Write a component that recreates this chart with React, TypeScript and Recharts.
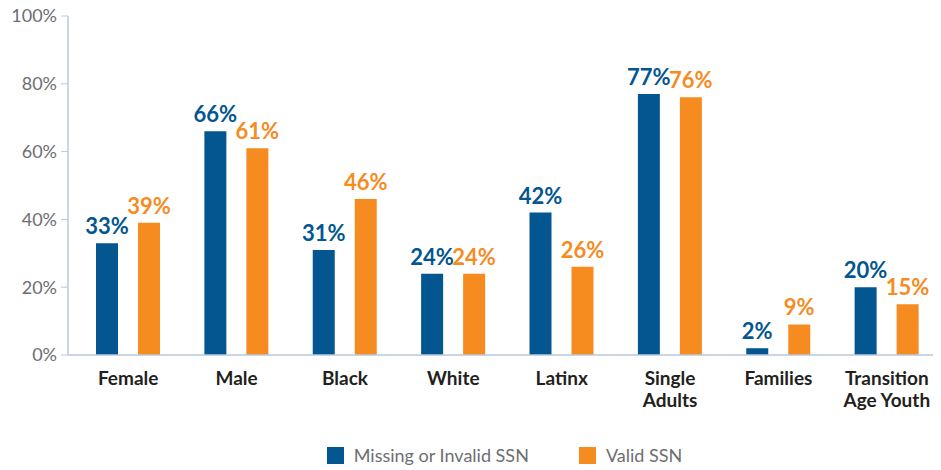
import React from 'react';
import { BarChart, Bar, XAxis, YAxis, Legend, LabelList } from 'recharts';

const categories = ['Female', 'Male', 'Black', 'White', 'Latinx', 'Single\nAdults', 'Families', 'Transition\nAge Youth'];
const missingSsn = [33, 66, 31, 24, 42, 77, 2, 20];
const validSsn = [39, 61, 46, 24, 26, 76, 9, 15];
const yTicks = [0, 20, 40, 60, 80, 100];

const BLUE = '#03568f';
const ORANGE = '#f68b1f';
const FONT = 'Lato, "Open Sans", sans-serif';

const data = categories.map((name, i) => ({
  name,
  missing: missingSsn[i],
  valid: validSsn[i],
}));

const CategoryTick = (props: any) => {
  const { x, y, payload } = props;
  const lines = String(payload.value).split('\n');
  return (
    <text x={x} y={y} textAnchor="middle" fill="#231f20" fontSize={19} fontWeight={700} fontFamily={FONT}>
      {lines.map((line, i) => (
        <tspan key={i} x={x} dy={i === 0 ? 22 : 22}>
          {line}
        </tspan>
      ))}
    </text>
  );
};

const LegendContent = () => (
  <div
    style={{
      display: 'flex',
      justifyContent: 'center',
      alignItems: 'center',
      paddingLeft: 68,
      height: 30,
      fontFamily: FONT,
      fontSize: 18,
      color: '#6d6e71',
    }}
  >
    <span style={{ display: 'inline-block', width: 17, height: 17, background: BLUE, marginRight: 10 }} />
    <span style={{ marginRight: 50 }}>Missing or Invalid SSN</span>
    <span style={{ display: 'inline-block', width: 17, height: 17, background: ORANGE, marginRight: 10 }} />
    <span>Valid SSN</span>
  </div>
);

const App: React.FC = () => {
  return (
    <div style={{ marginTop: -8, marginLeft: -8, width: 941, height: 470, background: '#fff' }}>
      <BarChart
        width={941}
        height={470}
        data={data}
        margin={{ top: 16, right: 0, left: 0, bottom: 0 }}
        barGap={20}
        barSize={22}
      >
        <XAxis
          dataKey="name"
          interval={0}
          tickLine={false}
          axisLine={{ stroke: '#b9c8dd', strokeWidth: 1.5 }}
          height={85}
          padding={{ left: 6, right: 0 }}
          tick={<CategoryTick />}
        />
        <YAxis
          width={68}
          domain={[0, 100]}
          ticks={yTicks}
          tickFormatter={(v: number) => `${v}%`}
          tickSize={7}
          tickMargin={4}
          tickLine={{ stroke: '#b9c8dd' }}
          axisLine={{ stroke: '#b9c8dd', strokeWidth: 1.5 }}
          tick={{ fill: '#6d6e71', fontSize: 18, fontFamily: FONT }}
        />
        <Legend verticalAlign="bottom" height={30} content={<LegendContent />} />
        <Bar dataKey="missing" fill={BLUE} isAnimationActive={false}>
          <LabelList
            dataKey="missing"
            position="top"
            offset={9}
            formatter={(v: any) => `${v}%`}
            fill={BLUE}
            fontSize={22}
            fontWeight={700}
            fontFamily={FONT}
          />
        </Bar>
        <Bar dataKey="valid" fill={ORANGE} isAnimationActive={false}>
          <LabelList
            dataKey="valid"
            position="top"
            offset={9}
            formatter={(v: any) => `${v}%`}
            fill={ORANGE}
            fontSize={22}
            fontWeight={700}
            fontFamily={FONT}
          />
        </Bar>
      </BarChart>
    </div>
  );
};

export default App;
